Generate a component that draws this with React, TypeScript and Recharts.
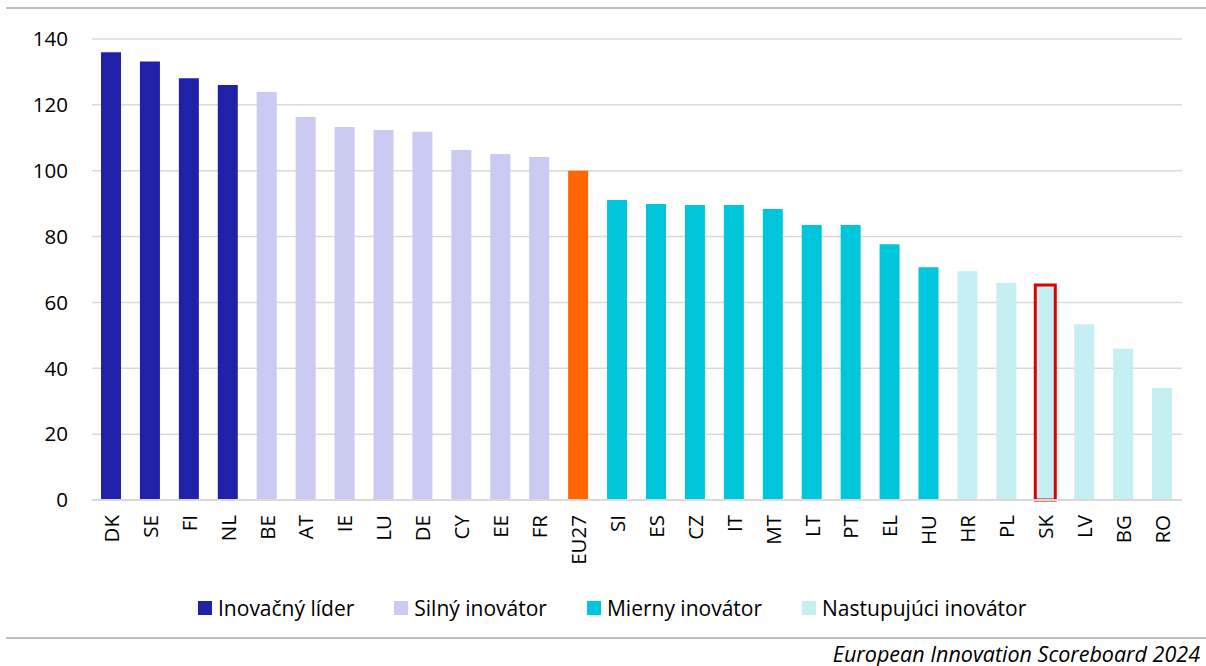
import { BarChart, Bar, XAxis, YAxis, CartesianGrid, Cell } from 'recharts';

const countries = ['DK', 'SE', 'FI', 'NL', 'BE', 'AT', 'IE', 'LU', 'DE', 'CY', 'EE', 'FR', 'EU27', 'SI', 'ES', 'CZ', 'IT', 'MT', 'LT', 'PT', 'EL', 'HU', 'HR', 'PL', 'SK', 'LV', 'BG', 'RO'];
const scores = [136.0, 133.2, 128.1, 126.0, 123.9, 116.3, 113.3, 112.4, 111.8, 106.3, 105.1, 104.2, 100, 91.1, 89.9, 89.6, 89.6, 88.4, 83.5, 83.5, 77.7, 70.7, 69.5, 65.9, 65.3, 53.4, 45.9, 34.0];
// 0 = leader, 1 = strong, 2 = moderate, 3 = emerging, 4 = EU average
const groupOf = [0, 0, 0, 0, 1, 1, 1, 1, 1, 1, 1, 1, 4, 2, 2, 2, 2, 2, 2, 2, 2, 2, 3, 3, 3, 3, 3, 3];
const groupNames = ['Inovačný líder', 'Silný inovátor', 'Mierny inovátor', 'Nastupujúci inovátor'];
const groupColors = ['#2020A8', '#CACAF3', '#00C6DC', '#C6EFF4', '#FF6600'];
const highlighted = 'SK';
const yTicks = [0, 20, 40, 60, 80, 100, 120, 140];

const data = countries.map((c, i) => ({ country: c, score: scores[i], group: groupOf[i] }));

const font = '"Open Sans", sans-serif';

const CountryTick = ({ x, y, payload }: any) => (
  <text
    x={x}
    y={y}
    transform={`rotate(-90, ${x}, ${y})`}
    textAnchor="end"
    dx={-15}
    dy="0.36em"
    fontSize={20.5}
    fontFamily={font}
    fill="#000"
  >
    {payload.value}
  </text>
);

export default function App() {
  return (
    <div style={{ position: 'absolute', left: 0, top: 0, width: 1206, height: 666, background: '#fff', fontFamily: font }}>
      <div style={{ position: 'absolute', left: 6, top: 7, width: 1200, height: 2, background: '#bfbfbf' }} />

      <BarChart
        width={1206}
        height={575}
        data={data}
        margin={{ top: 39, right: 24, left: 0, bottom: 10 }}
        barSize={20}
      >
        <CartesianGrid vertical={false} stroke="#d9d9d9" strokeWidth={1.5} />
        <XAxis
          dataKey="country"
          interval={0}
          height={65}
          tickLine={false}
          tickSize={0}
          tickMargin={0}
          axisLine={{ stroke: '#d9d9d9', strokeWidth: 2 }}
          tick={<CountryTick />}
        />
        <YAxis
          domain={[0, 140]}
          ticks={yTicks}
          width={92}
          tickLine={false}
          axisLine={false}
          tickSize={0}
          tickMargin={24}
          tick={{ fontSize: 20.5, fill: '#000', fontFamily: font }}
        />
        <Bar dataKey="score" isAnimationActive={false}>
          {data.map((d) => (
            <Cell
              key={d.country}
              fill={groupColors[d.group]}
              stroke={d.country === highlighted ? '#E00000' : 'none'}
              strokeWidth={d.country === highlighted ? 3 : 0}
            />
          ))}
        </Bar>
      </BarChart>

      <div style={{ position: 'absolute', left: 198, top: 594, display: 'flex', alignItems: 'center', gap: 40, fontSize: 21, color: '#000', whiteSpace: 'nowrap' }}>
        {groupNames.map((name, i) => (
          <div key={name} style={{ display: 'flex', alignItems: 'center' }}>
            <span style={{ display: 'inline-block', width: 14, height: 14, background: groupColors[i], marginRight: 6 }} />
            <span>{name}</span>
          </div>
        ))}
      </div>

      <div style={{ position: 'absolute', left: 6, top: 637, width: 1200, height: 2, background: '#bfbfbf' }} />
      <div style={{ position: 'absolute', right: 6, top: 639, fontSize: 21.5, fontStyle: 'italic', color: '#000' }}>
        European Innovation Scoreboard 2024
      </div>
    </div>
  );
}
